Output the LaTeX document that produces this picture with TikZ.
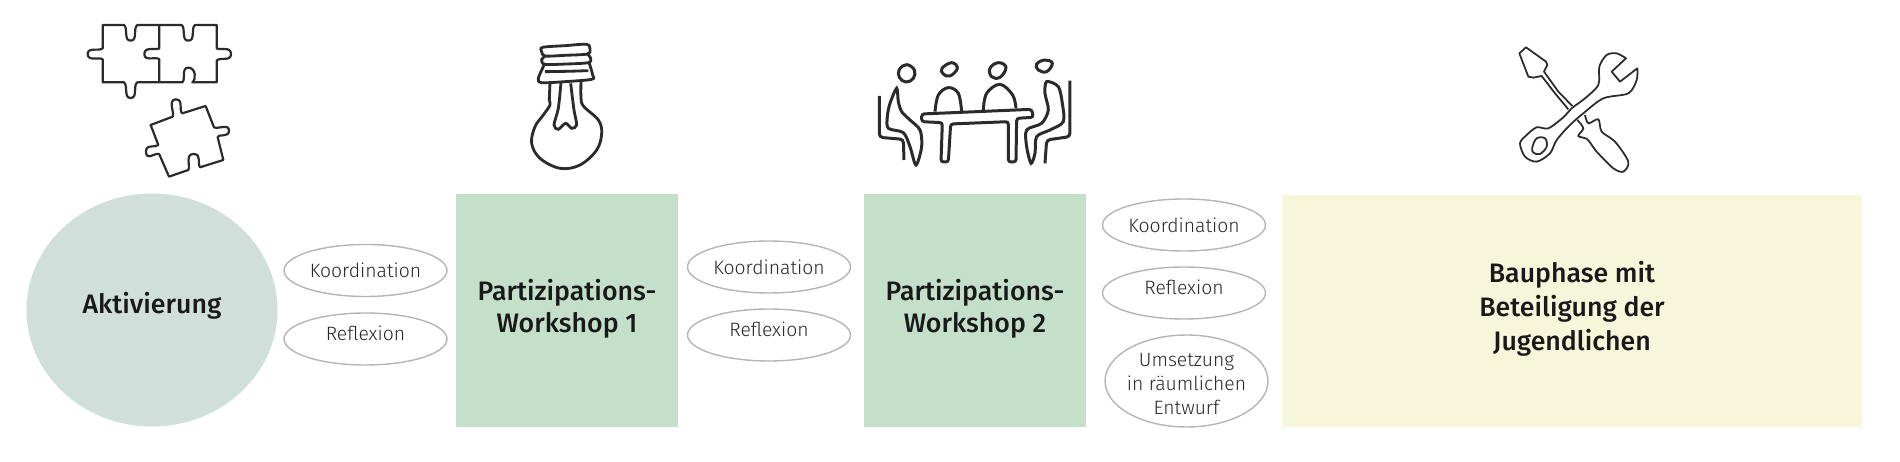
\documentclass[tikz,border=0pt]{standalone}
\usepackage{fontspec}
\setmainfont{Fira Sans}[UprightFont=* Light,BoldFont=* Medium]
\usetikzlibrary{shapes.geometric}
\definecolor{circleGray}{HTML}{D0DFDA}
\definecolor{boxGreen}{HTML}{C4E0CA}
\definecolor{boxYellow}{HTML}{F6F7DA}
\definecolor{ovalGray}{HTML}{B5B5B8}
\definecolor{iconInk}{HTML}{2B2B2B}
\tikzset{
    phaseText/.style={font=\bfseries\fontsize{15.2}{18.4}\selectfont,text=black!90,align=center},
    greenBox/.style={fill=boxGreen,minimum width=4.44cm,minimum height=4.66cm,inner sep=0},
    oval/.style={draw=ovalGray,line width=0.8pt,ellipse,minimum width=3.26cm,minimum height=1.04cm,inner sep=0,
		font=\fontsize{11}{13.6}\selectfont,text=black!85,align=center},
    reflexOval/.style={oval,text height=8pt,text depth=6pt},
}
\tikzset{
    puzzleIcon/.pic={
		\draw[iconInk,line width=1.25pt,line join=round] (128,15) -- (192,15) .. controls (205,25) and (190,62) .. (212,62) .. controls (234,62) and (218,25) .. (232,15) -- (365,15) .. controls (378,25) and (363,62) .. (385,62) .. controls (407,62) and (392,25) .. (405,15) -- (470,15) -- (470,85) .. controls (480,92) and (513,78) .. (513,102) .. controls (513,126) and (480,110) .. (470,122) -- (470,187) -- (397,187) .. controls (410,178) and (407,143) .. (385,143) .. controls (363,143) and (378,178) .. (367,187) -- (232,187) .. controls (218,197) and (234,234) .. (212,234) .. controls (190,234) and (205,197) .. (192,187) -- (128,187) -- (128,118) .. controls (118,110) and (83,125) .. (83,102) .. controls (83,80) and (118,95) .. (128,85) -- cycle;
		\draw[iconInk,line width=1.25pt,line join=round] (298,15) -- (298,85) .. controls (288,92) and (253,78) .. (253,102) .. controls (253,126) and (288,108) .. (298,118) -- (298,187);
		\draw[iconInk,line width=1.25pt,line join=round] (272,315) -- (338,290) .. controls (345,280) and (322,240) .. (347,238) .. controls (372,238) and (355,272) .. (367,280) -- (437,258) -- (462,322) .. controls (475,328) and (507,310) .. (507,332) .. controls (507,355) and (472,340) .. (473,352) -- (490,420) -- (420,442) .. controls (410,435) and (428,402) .. (400,402) .. controls (375,402) and (392,440) .. (385,450) -- (327,470) -- (298,403) .. controls (288,395) and (258,425) .. (258,395) .. controls (258,370) and (285,385) .. (295,375) -- cycle;
	}
}
\tikzset{
    bulbIcon/.pic={
		\draw[iconInk,line width=1.6pt] plot[smooth cycle,tension=0.5] coordinates {(128,52) (195,47) (260,43) (270,58) (262,72) (195,76) (135,78) (125,65)};
		\draw[iconInk,line width=1.6pt] plot[smooth,tension=0.5] coordinates {(135,78) (125,90) (135,103) (200,102) (265,98) (272,85) (262,72)};
		\draw[iconInk,line width=1.6pt] plot[smooth,tension=0.5] coordinates {(132,106) (115,145) (125,158) (195,155) (275,148) (278,135) (268,100)};
		\draw[iconInk,line width=1.6pt] plot[smooth,tension=0.5] coordinates {(135,125) (200,124) (265,122)};
		\draw[iconInk,line width=1.6pt] plot[smooth,tension=0.6] coordinates {(150,160) (148,210) (150,225) (130,255) (105,290) (95,340) (120,385) (180,415) (240,405) (290,360) (305,310) (295,270) (250,228) (243,200) (243,155)};
		\draw[iconInk,line width=1.6pt] plot[smooth,tension=0.5] coordinates {(183,158) (175,235) (162,285) (175,298) (197,280) (215,295) (230,285) (222,240) (212,160)};
	}
}
\tikzset{
    meetingIcon/.pic={
		\draw[iconInk,line width=1.7pt] plot[smooth cycle,tension=0.7] coordinates {(118,88) (140,74) (163,90) (160,115) (138,126) (118,112)};
		\draw[iconInk,line width=1.7pt] plot[smooth cycle,tension=0.7] coordinates {(246,85) (275,68) (292,85) (270,108) (250,102)};
		\draw[iconInk,line width=1.7pt] plot[smooth cycle,tension=0.7] coordinates {(390,85) (415,68) (438,82) (420,112) (395,110)};
		\draw[iconInk,line width=1.7pt] plot[smooth cycle,tension=0.7] coordinates {(530,72) (555,60) (577,70) (560,95) (535,90)};
		\draw[iconInk,line width=1.7pt,rounded corners=1.5pt] (185,222) -- (515,208) -- (520,232) -- (470,235) -- (468,366) -- (445,366) -- (445,245) -- (272,252) -- (265,366) -- (243,366) -- (247,248) -- (185,245) -- cycle;
		\draw[iconInk,line width=1.7pt] plot[smooth,tension=0.6] coordinates {(225,215) (235,165) (265,143) (295,160) (305,215)};
		\draw[iconInk,line width=1.7pt] plot[smooth,tension=0.6] coordinates {(370,210) (380,160) (420,133) (458,165) (468,205)};
		\draw[iconInk,line width=1.7pt,rounded corners=2pt] (58,168) -- (58,292) -- (130,298) -- (132,360);
		\draw[iconInk,line width=1.7pt] plot[smooth cycle,tension=0.5] coordinates {(110,145) (90,190) (82,230) (85,265) (130,278) (150,320) (168,375) (185,320) (180,270) (150,240) (125,215) (115,185)};
		\draw[iconInk,line width=1.7pt,rounded corners=2pt] (630,122) -- (630,290) -- (560,300) -- (555,370);
		\draw[iconInk,line width=1.7pt] plot[smooth cycle,tension=0.5] coordinates {(560,125) (595,140) (607,190) (610,245) (570,270) (530,290) (525,340) (513,370) (500,320) (500,270) (545,250) (565,210) (555,160)};
	}
}
\tikzset{
    toolsIcon/.pic={
		\draw[iconInk,line width=1pt,line join=round] (217,228) -- (175,185) -- (150,150) -- (132,125) -- (142,105) -- (138,95) -- (78,52) -- (58,70) -- (85,140) -- (100,143) -- (125,138) -- (165,190) -- (205,238);
		\draw[iconInk,line width=1pt] plot[smooth,tension=0.5] coordinates {(255,255) (265,280) (295,268) (305,305) (345,335) (385,395) (370,425) (340,415) (290,365) (262,328) (235,318) (250,295) (232,270)};
		\draw[iconInk,line width=1pt,line join=round] plot[smooth,tension=0.5] coordinates {(378,85) (350,70) (320,75) (298,110) (295,165) (255,205) (215,235) (190,262) (145,295) (110,292) (80,315) (60,340) (75,380) (110,395) (150,370) (170,330) (210,285) (250,250) (310,205) (385,190) (410,150) (412,115)} -- (360,155) -- (335,125) -- cycle;
		\draw[iconInk,line width=1pt] plot[smooth cycle,tension=0.6] coordinates {(97,352) (110,325) (135,325) (140,350) (120,372) (100,368)};
	}
}
\begin{document}
\begin{tikzpicture}[x=0.02cm,y=-0.02cm]
	\useasboundingbox (0,0) rectangle (1900,462);
	\pic[scale=0.3333] at(60,20) {puzzleIcon};
	\pic[scale=0.3333] at(500,30) {bulbIcon};
	\pic[scale=0.3333] at(860,40) {meetingIcon};
	\pic[scale=0.3333] at(1500,30) {toolsIcon};
	\node[fill=circleGray,ellipse,minimum width=5.02cm,minimum height=4.66cm,inner sep=0] (aktivierung) at (152,310) {};
	\node[phaseText] (aktivierungText) at (152,306) {Aktivierung};
	\node[greenBox] (workshopOne) at (567,310.5) {};
	\node[phaseText] (workshopOneText) at (567,309) {Partizipations-\\Workshop 1};
	\node[greenBox] (workshopTwo) at (975,310.5) {};
	\node[phaseText] (workshopTwoText) at (975,309) {Partizipations-\\Workshop 2};
	\node[fill=boxYellow,minimum width=11.6cm,minimum height=4.66cm,inner sep=0] (bauphase) at (1572,311) {};
	\node[phaseText,font=\bfseries\fontsize{15.2}{19.3}\selectfont] (bauphaseText) at (1572,309) {Bauphase mit\\Beteiligung der\\Jugendlichen};
	\node[oval] (koordA) at (365.5,270.5) {Koordination};
	\node[reflexOval] (reflexA) at (365.5,339) {Reflexion};
	\node[oval] (koordB) at (769,267) {Koordination};
	\node[reflexOval] (reflexB) at (769,335) {Reflexion};
	\node[oval] (koordC) at (1184,225) {Koordination};
	\node[reflexOval] (reflexC) at (1184,293) {Reflexion};
	\node[oval,minimum height=1.84cm,inner sep=-2.5pt] (umsetzung) at (1186.5,381) {\rule{0pt}{11pt}Umsetzung\\in räumlichen\\Entwurf};
\end{tikzpicture}
\end{document}
